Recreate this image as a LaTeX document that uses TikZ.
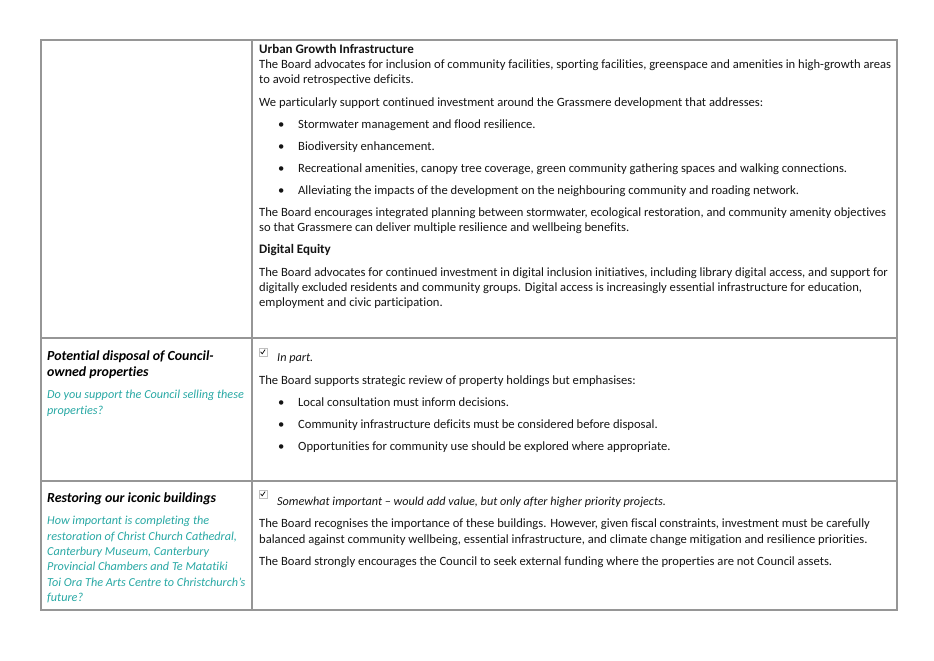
\documentclass[tikz,border=0pt]{standalone}
\usepackage{fontspec}
\setmainfont{Carlito}[Ligatures=NoCommon]
\definecolor{gridgray}{RGB}{150,150,150}
\definecolor{askteal}{RGB}{40,168,164}
\definecolor{inkgray}{RGB}{20,20,20}
\newcommand{\bodysize}{\fontsize{12.6}{15}\selectfont}
\newcommand{\slantsize}{\fontsize{12.2}{15}\selectfont}

\begin{document}
\begin{tikzpicture}[x=1pt,y=-1pt,  % pixel-like units, y grows downwards
    body/.style={anchor=base west,inner sep=0pt,yshift=-1pt,font=\bodysize,text=inkgray},
    head/.style={body,font=\fontsize{13}{15}\selectfont\bfseries},
    topic/.style={anchor=base west,inner sep=0pt,yshift=-1pt,
      font=\fontsize{13.9}{16}\selectfont\bfseries\itshape},
    ask/.style={body,font=\slantsize\itshape,text=askteal},
    answer/.style={body,font=\slantsize\itshape},
    tickbox/.style={draw=gray!50,minimum size=8pt,inner sep=0pt}
  ]
    \useasboundingbox (0,0) rectangle (934,661);

    % Table grid
    \draw[gridgray,line width=1.1pt] (41,40) rectangle (897,610);
    \draw[gridgray,line width=1.1pt] (252,40) -- (252,610);
    \foreach \y in {338,481} {
      \draw[gridgray,line width=1.1pt] (41,\y) -- (897,\y);
    }

    % Row 1: growth and digital equity
    \node[head] (ugi) at (259,52) {Urban Growth Infrastructure};
    \foreach \y/\t [count=\i] in {
        68/{The Board advocates for inclusion of community facilities, sporting facilities, greenspace and amenities in high-growth areas},
        83/{to avoid retrospective deficits.},
        105/{We particularly support continued investment around the Grassmere development that addresses:},
        215/{The Board encourages integrated planning between stormwater, ecological restoration, and community amenity objectives},
        230/{so that Grassmere can deliver multiple resilience and wellbeing benefits.},
        275/{The Board advocates for continued investment in digital inclusion initiatives, including library digital access, and support for},
        290/{digitally excluded residents and community groups. Digital access is increasingly essential infrastructure for education,},
        305/{employment and civic participation.}} {
      \node[body] (ra\i) at (259,\y) {\t};
    }
    \node[head] (deq) at (259,252) {Digital Equity};
    \foreach \y/\t [count=\i] in {
        127/{Stormwater management and flood resilience.},
        149/{Biodiversity enhancement.},
        171/{Recreational amenities, canopy tree coverage, green community gathering spaces and walking connections.},
        193/{Alleviating the impacts of the development on the neighbouring community and roading network.}} {
      \node[body] (da\i) at (278,\y) {•};
      \node[body] (ia\i) at (298,\y) {\t};
    }

    % Row 2: disposal of properties
    \node[topic] (tb1) at (47,359) {Potential disposal of Council-};
    \node[topic] (tb2) at (47,375) {owned properties};
    \node[ask] (qb1) at (47,397) {Do you support the Council selling these};
    \node[ask] (qb2) at (47,413) {properties?};
    \node[tickbox] (cb1) at (263,352) {};
    \draw[line width=0.7pt] (cb1.center) ++(-2.4,-0.2) -- ++(1.6,2) -- ++(2.9,-4.2);
    \node[answer] (ab) at (277,360) {In part.};
    \node[body] (rb1) at (259,383) {The Board supports strategic review of property holdings but emphasises:};
    \foreach \y/\t [count=\i] in {
        405/{Local consultation must inform decisions.},
        427/{Community infrastructure deficits must be considered before disposal.},
        449/{Opportunities for community use should be explored where appropriate.}} {
      \node[body] (db\i) at (278,\y) {•};
      \node[body] (ib\i) at (298,\y) {\t};
    }

    % Row 3: iconic buildings
    \node[topic] (tc1) at (47,501) {Restoring our iconic buildings};
    \foreach \y/\t [count=\i] in {
        523/{How important is completing the},
        539/{restoration of Christ Church Cathedral,},
        554/{Canterbury Museum, Canterbury},
        569/{Provincial Chambers and Te Matatiki},
        585/{Toi Ora The Arts Centre to Christchurch’s},
        600/{future?}} {
      \node[ask] (qc\i) at (47,\y) {\t};
    }
    \node[tickbox] (cb2) at (263,494) {};
    \draw[line width=0.7pt] (cb2.center) ++(-2.4,-0.2) -- ++(1.6,2) -- ++(2.9,-4.2);
    \node[answer] (ac) at (277,504)
      {Somewhat important – would add value, but only after higher priority projects.};
    \foreach \y/\t [count=\i] in {
        526/{The Board recognises the importance of these buildings. However, given fiscal constraints, investment must be carefully},
        542/{balanced against community wellbeing, essential infrastructure, and climate change mitigation and resilience priorities.},
        564/{The Board strongly encourages the Council to seek external funding where the properties are not Council assets.}} {
      \node[body] (rc\i) at (259,\y) {\t};
    }

  \end{tikzpicture}
\end{document}
